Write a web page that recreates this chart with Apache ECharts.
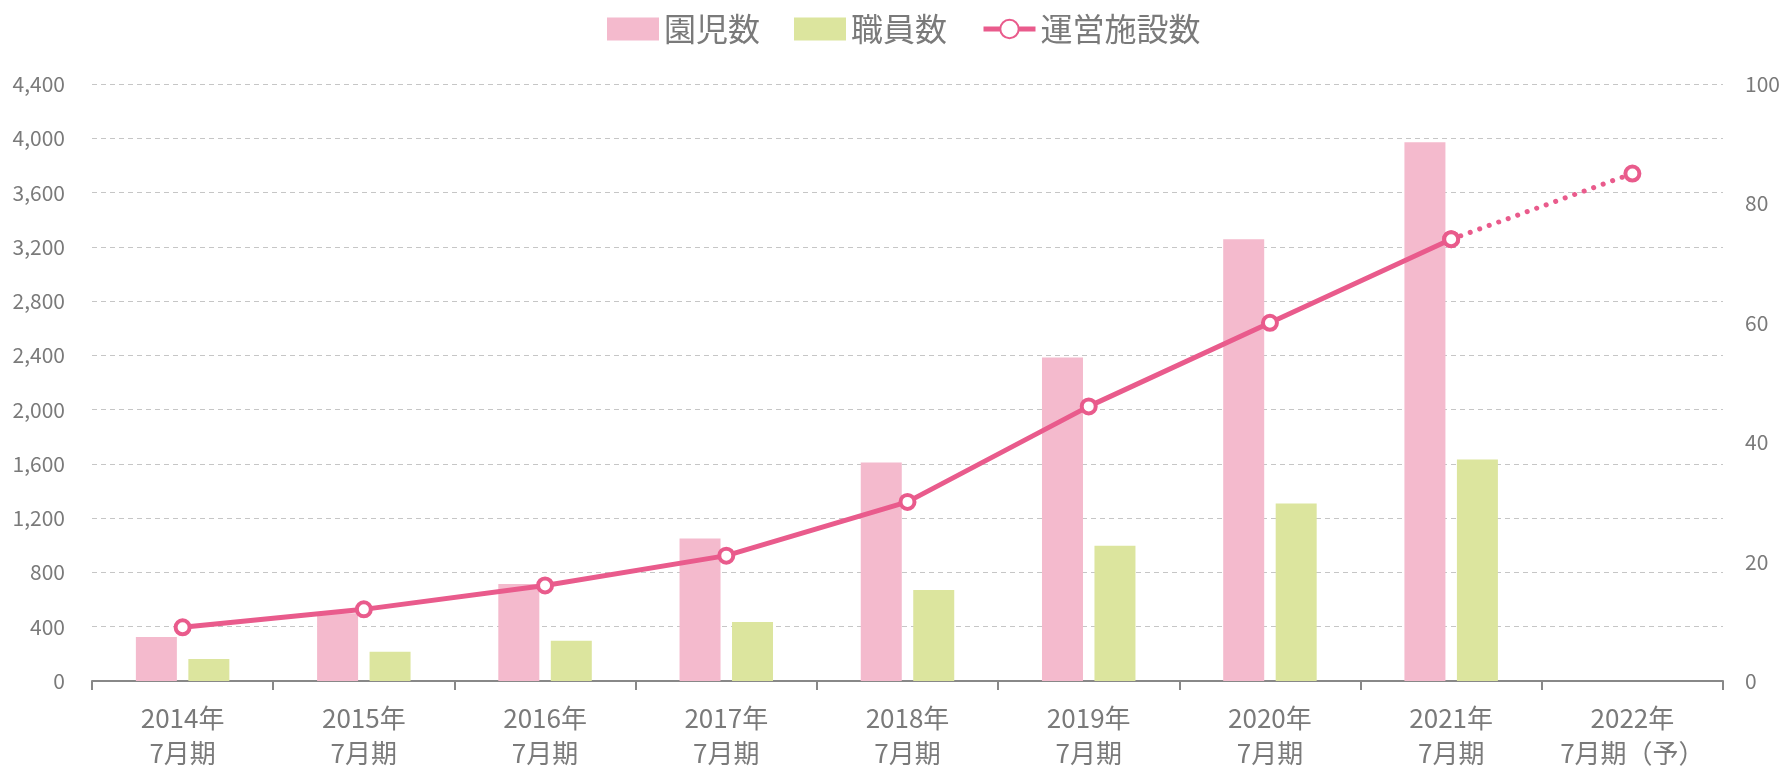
<!DOCTYPE html>
<html>
<head>
<meta charset="utf-8">
<script src="https://cdn.jsdelivr.net/npm/echarts@6/dist/echarts.min.js"></script>
<style>
  html, body { margin: 0; padding: 0; background: #fff; }
  #chart { width: 1781px; height: 768px; }
</style>
</head>
<body>
<div id="chart"></div>
<script>
// 年度（7月期）
var categories = ['2014年\n7月期', '2015年\n7月期', '2016年\n7月期', '2017年\n7月期',
                  '2018年\n7月期', '2019年\n7月期', '2020年\n7月期', '2021年\n7月期', '2022年\n7月期（予）'];
// 園児数・職員数（左軸）
var enjiCount = [325, 500, 715, 1050, 1610, 2385, 3255, 3970, null];
var staffCount = [162, 216, 297, 435, 670, 997, 1309, 1633, null];
// 運営施設数（右軸）。最後は予想値
var facilityCount = [9, 12, 16, 21, 30, 46, 60, 74, 85];
var actualLast = 7; // 2021年までが実績

var textColor = '#7a7a7a';
var lineColor = '#E95B8C';

// 実績は実線、予想は点線
var solidData = facilityCount.map(function (v, i) { return i <= actualLast ? v : '-'; });
var dottedData = facilityCount.map(function (v, i) { return i >= actualLast ? v : '-'; });

var myChart = echarts.init(document.getElementById('chart'));
var option = {
    textStyle: { fontFamily: 'Noto Sans CJK JP' },
    legend: {
        data: [
            { name: '園児数', icon: 'rect' },
            { name: '職員数', icon: 'rect' },
            { name: '運営施設数' }
        ],
        left: 602,
        top: 8,
        itemWidth: 52,
        itemHeight: 23,
        itemGap: 34,
        lineStyle: { width: 5 },
        textStyle: { fontSize: 32, color: textColor }
    },
    grid: {
        left: 92,
        right: 58,
        top: 84,
        bottom: 87,
        outerBoundsMode: 'none'
    },
    xAxis: {
        type: 'category',
        data: categories,
        axisLine: { lineStyle: { color: '#888', width: 2 } },
        axisTick: { show: true, length: 9, lineStyle: { color: '#888', width: 2 } },
        axisLabel: {
            interval: 0,
            color: textColor,
            fontSize: 26,
            lineHeight: 35,
            margin: 20
        }
    },
    yAxis: [
        {
            type: 'value',
            min: 0,
            max: 4400,
            interval: 400,
            axisLine: { show: false },
            axisTick: { show: false },
            axisLabel: {
                color: textColor,
                fontSize: 21,
                margin: 27,
                formatter: function (v) { return v.toLocaleString('en-US'); }
            },
            splitLine: { lineStyle: { color: '#c6c6c6', width: 1, type: [5, 4] } }
        },
        {
            type: 'value',
            min: 0,
            max: 100,
            interval: 20,
            axisLine: { show: false },
            axisTick: { show: false },
            splitLine: { show: false },
            axisLabel: { color: textColor, fontSize: 21, margin: 22 }
        }
    ],
    series: [
        {
            name: '園児数',
            type: 'bar',
            data: enjiCount,
            barWidth: 41,
            barGap: '28%',
            itemStyle: { color: '#F4BACD' }
        },
        {
            name: '職員数',
            type: 'bar',
            data: staffCount,
            barWidth: 41,
            itemStyle: { color: '#DCE59E' }
        },
        {
            name: '運営施設数',
            type: 'line',
            yAxisIndex: 1,
            data: solidData,
            z: 4,
            symbol: 'circle',
            symbolSize: 14,
            lineStyle: { color: lineColor, width: 5 },
            itemStyle: { color: '#fff', borderColor: lineColor, borderWidth: 4 }
        },
        {
            name: '運営施設数',
            type: 'line',
            yAxisIndex: 1,
            data: dottedData,
            z: 3,
            symbol: 'circle',
            symbolSize: 14,
            lineStyle: { color: lineColor, width: 5, type: [0.1, 10], cap: 'round' },
            itemStyle: { color: '#fff', borderColor: lineColor, borderWidth: 4 }
        }
    ]
};
myChart.setOption(option);
</script>
</body>
</html>
